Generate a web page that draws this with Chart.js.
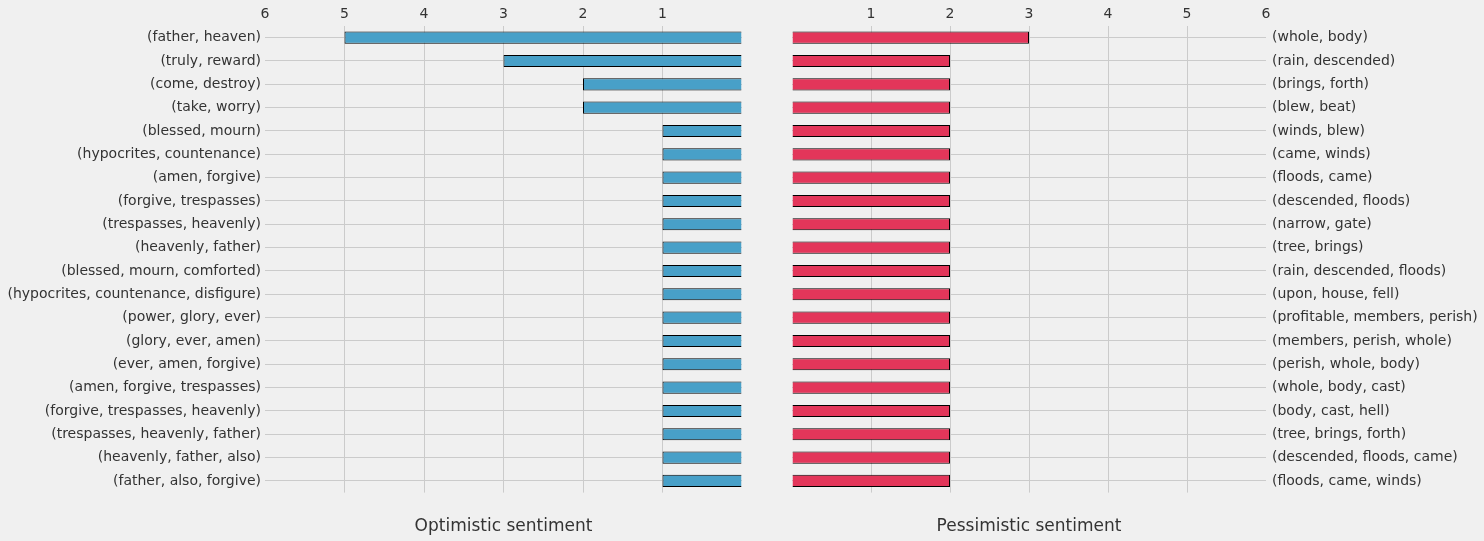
<!DOCTYPE html>
<html>
<head>
<meta charset="utf-8">
<script src="https://cdn.jsdelivr.net/npm/chart.js@4/dist/chart.umd.min.js"></script>
<style>
  html, body { margin: 0; padding: 0; background: #f0f0f0; width: 1484px; height: 541px; overflow: hidden; }
  canvas { position: absolute; top: 0; }
  #left { left: 0; }
  #right { left: 770px; }
</style>
</head>
<body>
<canvas id="left" width="750" height="541"></canvas>
<canvas id="right" width="714" height="541"></canvas>
<script>
const optimisticLabels = [
  "(father, heaven)", "(truly, reward)", "(come, destroy)", "(take, worry)",
  "(blessed, mourn)", "(hypocrites, countenance)", "(amen, forgive)", "(forgive, trespasses)",
  "(trespasses, heavenly)", "(heavenly, father)", "(blessed, mourn, comforted)",
  "(hypocrites, countenance, disfigure)", "(power, glory, ever)", "(glory, ever, amen)",
  "(ever, amen, forgive)", "(amen, forgive, trespasses)", "(forgive, trespasses, heavenly)",
  "(trespasses, heavenly, father)", "(heavenly, father, also)", "(father, also, forgive)"
];
const optimisticCounts = [5, 3, 2, 2, 1, 1, 1, 1, 1, 1, 1, 1, 1, 1, 1, 1, 1, 1, 1, 1];

const pessimisticLabels = [
  "(whole, body)", "(rain, descended)", "(brings, forth)", "(blew, beat)",
  "(winds, blew)", "(came, winds)", "(floods, came)", "(descended, floods)",
  "(narrow, gate)", "(tree, brings)", "(rain, descended, floods)", "(upon, house, fell)",
  "(profitable, members, perish)", "(members, perish, whole)", "(perish, whole, body)",
  "(whole, body, cast)", "(body, cast, hell)", "(tree, brings, forth)",
  "(descended, floods, came)", "(floods, came, winds)"
];
const pessimisticCounts = [3, 2, 2, 2, 2, 2, 2, 2, 2, 2, 2, 2, 2, 2, 2, 2, 2, 2, 2, 2];

const xTicks = [0, 1, 2, 3, 4, 5, 6];

const FONT = "'DejaVu Sans', sans-serif";
const TEXT = "#333333";
const GRID = "#cbcbcb";

function makeChart(id, labels, values, color, title, side) {
  const isLeft = side === "left";
  return new Chart(document.getElementById(id), {
    type: "bar",
    data: {
      labels: labels,
      datasets: [{
        data: values,
        backgroundColor: color,
        borderColor: "#000000",
        borderWidth: 1,
        categoryPercentage: 1.0,
        barPercentage: 0.52
      }]
    },
    options: {
      indexAxis: "y",
      responsive: false,
      animation: false,
      devicePixelRatio: 1,
      layout: { padding: isLeft ? { left: 0, right: 8, top: 0, bottom: 0 } : { left: 22, right: 0, top: 0, bottom: 0 } },
      plugins: {
        legend: { display: false },
        tooltip: { enabled: false },
        title: {
          display: true,
          text: title,
          position: "bottom",
          fullSize: false,
          color: TEXT,
          font: { family: FONT, size: 17, weight: "normal" },
          padding: { top: 24, bottom: 4 }
        }
      },
      scales: {
        x: {
          type: "linear",
          position: "top",
          min: 0,
          max: 6,
          reverse: isLeft,
          afterBuildTicks: (scale) => { scale.ticks = xTicks.map(v => ({ value: v })); },
          afterFit: (scale) => { scale.height = 26; },
          ticks: {
            color: TEXT,
            font: { family: FONT, size: 14 },
            padding: 3,
            callback: (v) => (v === 0 ? "" : String(v))
          },
          grid: {
            drawTicks: false,
            color: (ctx) => (ctx.tick && (ctx.tick.value === 0 || ctx.tick.value === 6)) ? "rgba(0,0,0,0)" : GRID,
            lineWidth: 1
          },
          border: { display: false }
        },
        y: {
          type: "category",
          position: isLeft ? "left" : "right",
          afterFit: (scale) => { scale.width = isLeft ? 265 : 218; },
          ticks: {
            color: TEXT,
            font: { family: FONT, size: 14 },
            padding: isLeft ? 4 : 6,
            autoSkip: false
          },
          grid: { offset: false, drawTicks: false, color: GRID, lineWidth: 1 },
          border: { display: false }
        }
      }
    }
  });
}

makeChart("left", optimisticLabels, optimisticCounts, "#48a0c8", "Optimistic sentiment", "left");
makeChart("right", pessimisticLabels, pessimisticCounts, "#e3365a", "Pessimistic sentiment", "right");
</script>
</body>
</html>
